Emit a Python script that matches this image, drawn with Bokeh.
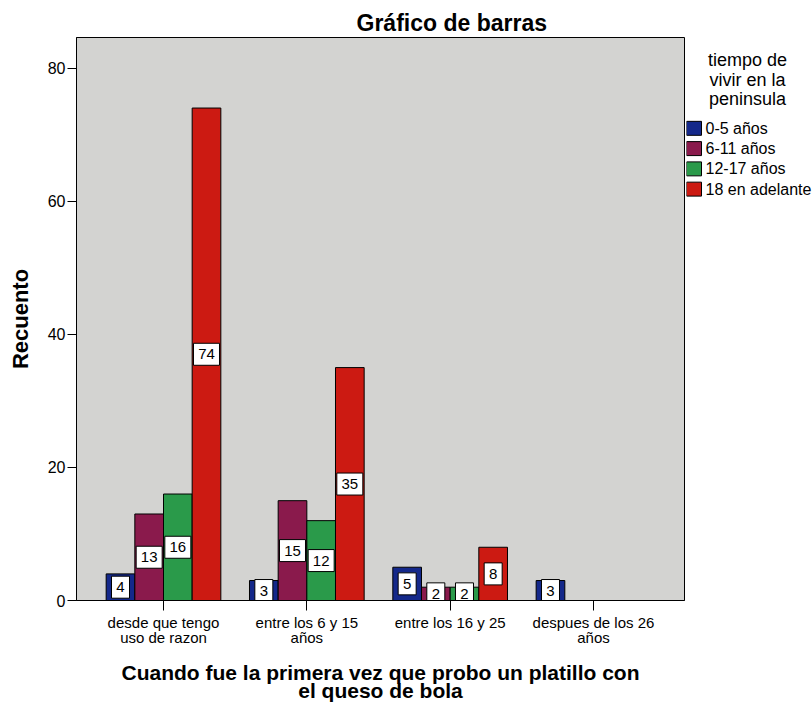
from bokeh.plotting import figure
from bokeh.layouts import row
from bokeh.models import ColumnDataSource, Range1d, FixedTicker, Title
from bokeh.core.properties import value
from bokeh.embed import file_html
from bokeh.resources import INLINE

# Categories of the x axis (when the dish was first tried)
categories = ["desde que tengo\nuso de razon", "entre los 6 y 15\naños",
              "entre los 16 y 25", "despues de los 26\naños"]

# Series: time living in the peninsula
series_names = ["0-5 años", "6-11 años", "12-17 años", "18 en adelante"]
counts_0_5 = [4, 3, 5, 3]
counts_6_11 = [13, 15, 2, 0]
counts_12_17 = [16, 12, 2, 0]
counts_18_plus = [74, 35, 8, 0]

y_ticks = [0, 20, 40, 60, 80]
legend_title = ["tiempo de", "vivir en la", "peninsula"]

colors = ["#14288a", "#8a1a4c", "#2a9a4a", "#cc1a12"]
offsets = [-0.3, -0.1, 0.1, 0.3]
bar_width = 0.2
FONT = "Liberation Sans"
TOP, BOTTOM = 37, 103

p = figure(width=686, height=704, output_backend="svg", toolbar_location=None,
           x_range=Range1d(-0.607, 3.635), y_range=Range1d(0, 84.6),
           min_border_left=76, min_border_right=2, min_border_top=TOP,
           min_border_bottom=BOTTOM)
p.background_fill_color = "#d3d3d1"
p.border_fill_color = "white"
p.outline_line_color = "black"
p.outline_line_width = 1
p.xgrid.visible = False
p.ygrid.visible = False

title = Title(text="Gráfico de barras", text_font=FONT, text_font_size="23px",
              text_font_style="bold", text_color="black", align="left",
              offset=280, standoff=4)
p.add_layout(title, "above")

all_series = [counts_0_5, counts_6_11, counts_12_17, counts_18_plus]
lx, ly, lt, lw = [], [], [], []
for vals, off, col in zip(all_series, offsets, colors):
    xs = [i + off for i in range(len(vals))]
    src = ColumnDataSource(dict(x=xs, top=vals))
    p.vbar(x="x", top="top", width=bar_width, source=src,
           fill_color=col, line_color="black", line_width=1)
    for x, v in zip(xs, vals):
        if v > 0:
            lx.append(x)
            ly.append(v / 2)
            lt.append(str(v))
            lw.append(10 + 8 * len(str(v)))

# value labels: white boxes with the count, centred on each bar
lab_src = ColumnDataSource(dict(x=lx, y=ly, t=lt, w=lw))
p.rect(x="x", y="y", width="w", height=22, width_units="screen",
       height_units="screen", source=lab_src, fill_color="white",
       line_color="black", line_width=1)
p.text(x="x", y="y", text="t", source=lab_src, text_align="center",
       text_baseline="middle", text_font=value(FONT), text_font_size="15px",
       text_color="black")

# Axes
p.yaxis.ticker = FixedTicker(ticks=y_ticks)
p.yaxis.minor_tick_line_color = None
p.yaxis.major_tick_out = 9
p.yaxis.major_tick_in = 0
p.yaxis.major_label_text_font = FONT
p.yaxis.major_label_text_font_size = "16px"
p.yaxis.major_label_text_color = "black"
p.yaxis.major_label_standoff = 2
p.yaxis.axis_label = "Recuento"
p.yaxis.axis_label_text_font = FONT
p.yaxis.axis_label_text_font_size = "22px"
p.yaxis.axis_label_text_font_style = "bold"
p.yaxis.axis_label_text_color = "black"
p.yaxis.axis_label_standoff = 12

p.xaxis.ticker = FixedTicker(ticks=list(range(len(categories))))
p.xaxis.major_label_overrides = {i: c for i, c in enumerate(categories)}
p.xaxis.minor_tick_line_color = None
p.xaxis.major_tick_out = 10
p.xaxis.major_tick_in = 0
p.xaxis.major_label_text_font = FONT
p.xaxis.major_label_text_font_size = "15px"
p.xaxis.major_label_text_color = "black"
p.xaxis.major_label_text_line_height = 0.92
p.xaxis.major_label_standoff = 3
p.xaxis.axis_label = "Cuando fue la primera vez que probo un platillo con\nel queso de bola"
p.xaxis.axis_label_text_font = FONT
p.xaxis.axis_label_text_font_size = "21px"
p.xaxis.axis_label_text_font_style = "bold"
p.xaxis.axis_label_text_color = "black"
p.xaxis.axis_label_text_line_height = 0.76
p.xaxis.axis_label_standoff = 12

# Side panel with the legend; its ranges are in pixels of its own frame
# (x from the left edge, y upward from the bottom of the grey panel)
side_h = 704 - TOP - BOTTOM
side = figure(width=126, height=704, output_backend="svg", toolbar_location=None,
              x_range=Range1d(0, 126), y_range=Range1d(0, side_h),
              x_axis_type=None, y_axis_type=None,
              min_border_left=0, min_border_right=0, min_border_top=TOP,
              min_border_bottom=BOTTOM)
side.outline_line_color = None
side.background_fill_color = "white"
side.border_fill_color = "white"
side.xgrid.visible = False
side.ygrid.visible = False

n = len(series_names)
row_h = 20.3
key_y = [side_h - (91 + row_h * i) for i in range(n)]
side.rect(x=[7.5] * n, y=key_y, width=15, height=14, fill_color=colors,
          line_color="black", line_width=1)
side.text(x=[19] * n, y=key_y, text=series_names, text_align="left",
          text_baseline="middle", text_font=value(FONT), text_font_size="16px",
          text_color="black")

title_y = [side_h - (23 + 19.5 * i) for i in range(len(legend_title))]
side.text(x=[61] * len(legend_title), y=title_y, text=legend_title,
          text_align="center", text_baseline="middle", text_font=value(FONT),
          text_font_size="18px", text_color="black")

layout = row(p, side, spacing=0)
open("out.html", "w").write(file_html(layout, INLINE))
